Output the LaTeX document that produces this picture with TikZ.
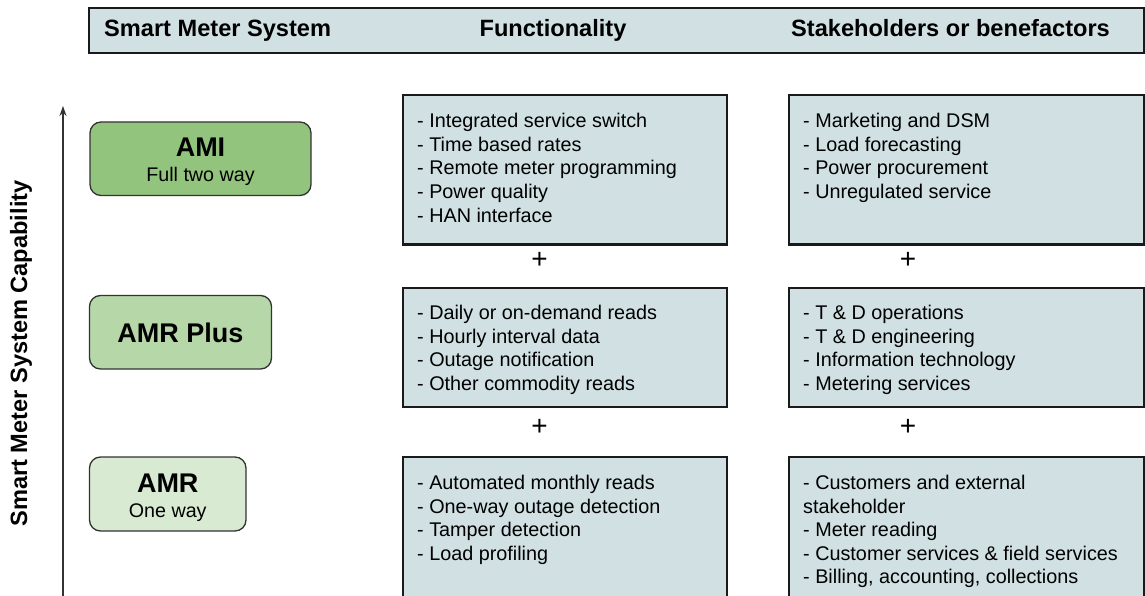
\documentclass[tikz,border=0pt]{standalone}
\usepackage{fontspec}
\setmainfont{Liberation Sans}
\usetikzlibrary{arrows.meta}
\definecolor{boxblue}{HTML}{D0E0E3}
\definecolor{gA}{HTML}{93C47D}
\definecolor{gB}{HTML}{B6D7A8}
\definecolor{gC}{HTML}{D9EAD3}
\definecolor{edge}{HTML}{1A1A1A}
\tikzset{
  bluebox/.style={draw=edge, line width=2.2pt, fill=boxblue},
  greenbox/.style={draw=black!80, line width=1.3pt, rounded corners=11pt},
  hdr/.style={font=\fontsize{23.6}{27}\selectfont\bfseries, inner sep=0pt},
  body/.style={inner sep=0pt, anchor=base west},
  big/.style={font=\fontsize{27}{30}\selectfont\bfseries, inner sep=0pt, anchor=base},
  small/.style={font=\fontsize{19.7}{23}\selectfont, inner sep=0pt, anchor=base},
  plus/.style={font=\fontsize{28}{30}\selectfont, inner sep=0pt},
}
\newcommand{\itemlist}[1]{\begin{minipage}[t]{335pt}\fontsize{19.8}{23.6}\selectfont\raggedright #1\end{minipage}}
\begin{document}
\begin{tikzpicture}[x=1pt,y=-1pt]
\useasboundingbox (0,0) rectangle (1145,596);
% header
\draw[bluebox] (89,8) rectangle (1144,53);
\node[hdr, anchor=base west] (h1) at (104,36.7) {Smart Meter System};
\node[hdr, anchor=base] (h2) at (553,36.7) {Functionality};
\node[hdr, anchor=base] (h3) at (950.5,36.7) {Stakeholders or benefactors};
% axis
\coordinate (ab) at (63,600);
\coordinate (at) at (63,106);
\draw[line width=1.2pt, black!80, -{Stealth[length=10pt,width=7pt]}] (ab) -- (at);
\node[hdr, rotate=90] (ax) at (21,353.5) {Smart Meter System Capability};
% green boxes
\draw[greenbox, fill=gA] (90,122) rectangle (311,195.5);
\node[big] (ami) at (200.5,157) {AMI};
\node[small] (amis) at (200.5,181.7) {Full two way};
\draw[greenbox, fill=gB] (89.5,295.5) rectangle (271.5,369);
\node[big] (amrp) at (180.5,342.7) {AMR Plus};
\draw[greenbox, fill=gC] (89.5,457) rectangle (246,531);
\node[big] (amr) at (167.75,492.3) {AMR};
\node[small] (amrs) at (167.75,517.3) {One way};
% functionality boxes
\draw[bluebox] (403,95) rectangle (727,244.5);
\draw[bluebox] (403,288) rectangle (727,407);
\draw[bluebox] (403,457) rectangle (727,610);
% stakeholder boxes
\draw[bluebox] (789,95) rectangle (1144,244.5);
\draw[bluebox] (789,288) rectangle (1144,407);
\draw[bluebox] (789,457) rectangle (1144,610);
% texts
\node[body] (f1) at (417,127.7) {\itemlist{- Integrated service switch\\- Time based rates\\- Remote meter programming\\- Power quality\\- HAN interface}};
\node[body] (f2) at (417,319.7) {\itemlist{- Daily or on-demand reads\\- Hourly interval data\\- Outage notification\\- Other commodity reads}};
\node[body] (f3) at (417,489.5) {\itemlist{- Automated monthly reads\\- One-way outage detection\\- Tamper detection\\- Load profiling}};
\node[body] (s1) at (803,127.7) {\itemlist{- Marketing and DSM\\- Load forecasting\\- Power procurement\\- Unregulated service}};
\node[body] (s2) at (803,319.7) {\itemlist{- T \& D operations\\- T \& D engineering\\- Information technology\\- Metering services}};
\node[body] (s3) at (803,489.5) {\itemlist{- Customers and external\\stakeholder\\- Meter reading\\- Customer services \& field services\\- Billing, accounting, collections}};
% plus signs
\node[plus] (p1) at (539.5,260) {+};
\node[plus] (p2) at (908,260) {+};
\node[plus] (p3) at (539.5,427) {+};
\node[plus] (p4) at (908,427) {+};
\end{tikzpicture}
\end{document}
